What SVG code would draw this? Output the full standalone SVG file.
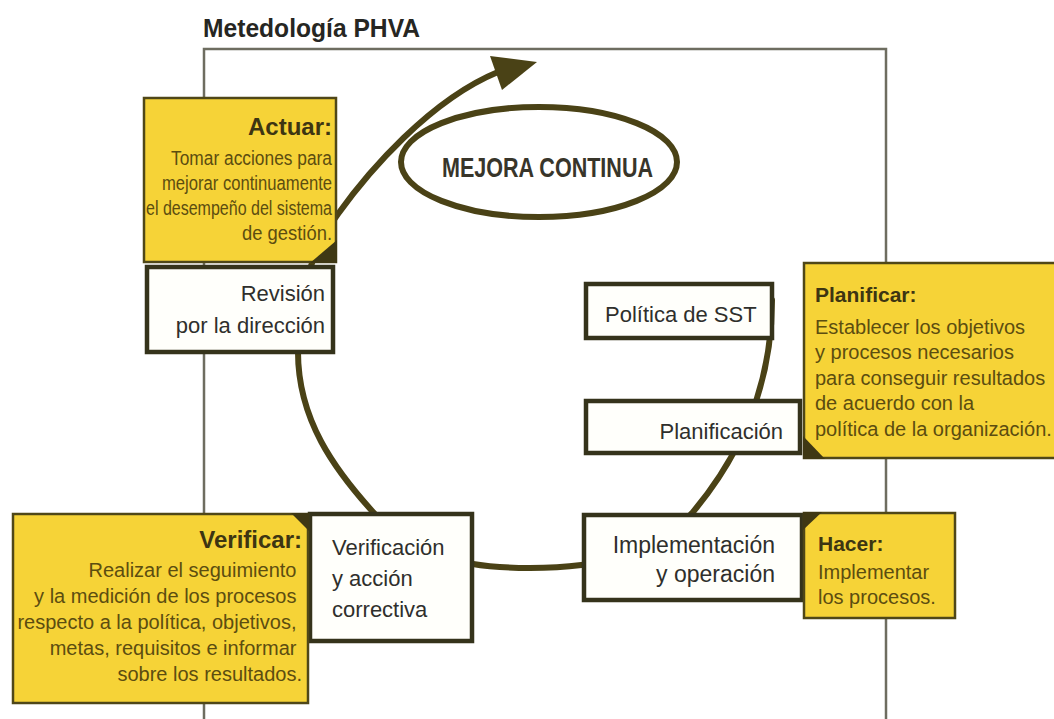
<svg xmlns="http://www.w3.org/2000/svg" width="1054" height="719" viewBox="0 0 1054 719">
<style>
  .frame{fill:none;stroke:#6e6d60;stroke-width:2.5}
  .cyc{fill:none;stroke:#4a4216;stroke-width:6;stroke-linecap:round}
  .note{fill:#f6d337;stroke:#4f4718;stroke-width:2.5}
  .fold{fill:#3f3814}
  .node{fill:#fffffb;stroke:#35331b;stroke-width:4.5}
  .t{font-family:"Liberation Sans",Arial,sans-serif}
  .nt{font-size:22px;fill:#2f2f2c}
  .nb{font-size:20px;fill:#5c4d10}
  .nh{font-size:21px;font-weight:bold;fill:#3d3512}
</style>
<rect width="1054" height="719" fill="#ffffff"/>
<text class="t" x="203" y="37" font-size="26" font-weight="bold" fill="#262622" textLength="217" lengthAdjust="spacingAndGlyphs">Metedología PHVA</text>
<rect class="frame" x="204" y="49" width="682" height="700"/>

<g id="connectors">
  <path class="cyc" d="M 772 300 C 772 380, 745 450, 693 512 C 655 555, 600 568, 530 568 C 460 568, 410 555, 373 512 C 335 470, 298 420, 298 352 C 298 290, 315 245, 338 214 C 368 172, 430 100, 498 72"/>
  <polygon points="537,62 490,56 502,90" fill="#4a4216"/>
</g>

<g id="mejora">
  <ellipse cx="539" cy="162" rx="138" ry="55" fill="none" stroke="#4a4216" stroke-width="6"/>
  <text class="t" x="442" y="177" font-size="27" font-weight="bold" fill="#38352a" textLength="211" lengthAdjust="spacingAndGlyphs">MEJORA CONTINUA</text>
</g>

<g id="actuar">
  <rect class="note" x="144" y="98" width="192" height="164"/>
  <polygon class="fold" points="310,263 337,263 337,240"/>
  <text class="t nh" x="332" y="135" text-anchor="end" style="font-size:24px">Actuar:</text>
  <text class="t nb" x="332" y="165" text-anchor="end" textLength="161" lengthAdjust="spacingAndGlyphs">Tomar acciones para</text>
  <text class="t nb" x="332" y="190" text-anchor="end" textLength="170" lengthAdjust="spacingAndGlyphs">mejorar continuamente</text>
  <text class="t nb" x="332" y="215" text-anchor="end" textLength="186" lengthAdjust="spacingAndGlyphs">el desempeño del sistema</text>
  <text class="t nb" x="332" y="240" text-anchor="end" textLength="90" lengthAdjust="spacingAndGlyphs">de gestión.</text>
</g>

<g id="revision">
  <rect class="node" x="147" y="267" width="186" height="85"/>
  <text class="t nt" text-anchor="end"><tspan x="325" y="301">Revisión</tspan><tspan x="325" y="333">por la dirección</tspan></text>
</g>

<g id="politica">
  <rect class="node" x="586" y="284" width="186" height="54"/>
  <text class="t nt" x="605" y="322">Política de SST</text>
</g>

<g id="planificacion">
  <rect class="node" x="586" y="401" width="214" height="52"/>
  <text class="t nt" x="783" y="439" text-anchor="end">Planificación</text>
</g>

<g id="planificar">
  <rect class="note" x="804" y="263" width="252" height="195"/>
  <polygon class="fold" points="803,436 803,459 825,459"/>
  <text class="t nh" x="815" y="302">Planificar:</text>
  <text class="t nb">
    <tspan x="815" y="334">Establecer los objetivos</tspan>
    <tspan x="815" y="359">y procesos necesarios</tspan>
    <tspan x="815" y="385">para conseguir resultados</tspan>
    <tspan x="815" y="410">de acuerdo con la</tspan>
    <tspan x="815" y="436">política de la organización.</tspan>
  </text>
</g>

<g id="implementacion">
  <rect class="node" x="584" y="515" width="218" height="85"/>
  <text class="t nt" style="font-size:23px" text-anchor="end"><tspan x="775" y="553">Implementación</tspan><tspan x="775" y="582">y operación</tspan></text>
</g>

<g id="hacer">
  <rect class="note" x="804" y="513" width="151" height="105"/>
  <polygon class="fold" points="803,512 822,512 803,530"/>
  <text class="t nh" x="818" y="551">Hacer:</text>
  <text class="t nb"><tspan x="818" y="579">Implementar</tspan><tspan x="818" y="604">los procesos.</tspan></text>
</g>

<g id="verificacion">
  <rect class="node" x="310" y="514" width="162" height="127"/>
  <text class="t nt"><tspan x="332" y="555">Verificación</tspan><tspan x="332" y="586">y acción</tspan><tspan x="332" y="617">correctiva</tspan></text>
</g>

<g id="verificar">
  <rect class="note" x="13" y="514" width="295" height="189"/>
  <polygon class="fold" points="291,513 309,513 309,531"/>
  <text class="t nh" x="302" y="548" style="font-size:24px" text-anchor="end">Verificar:</text>
  <text class="t nb" text-anchor="end">
    <tspan x="302" y="577">Realizar el seguimiento</tspan>
    <tspan x="302" y="603">y la medición de los procesos</tspan>
    <tspan x="302" y="629">respecto a la política, objetivos,</tspan>
    <tspan x="302" y="655">metas, requisitos e informar</tspan>
    <tspan x="302" y="681">sobre los resultados.</tspan>
  </text>
</g>
</svg>
